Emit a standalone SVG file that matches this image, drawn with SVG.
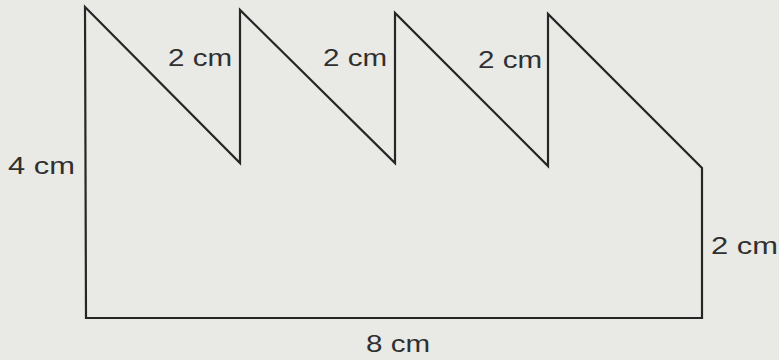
<svg xmlns="http://www.w3.org/2000/svg" width="779" height="360" viewBox="0 0 779 360">
<style>
.shape{fill:none;stroke:#262626;stroke-width:2.2;stroke-linejoin:miter}
.lbl{font-family:"Liberation Sans",Arial,sans-serif;font-size:23px;fill:#303030}
</style>
<rect width="779" height="360" fill="#e9e9e5"/>
<g id="shape">
<polygon class="shape" points="85,7 240,163 240,10 395,163 395,13 548,166 548,14 702,168 702,318 86,318"/>
</g>
<g id="labels">
<text class="lbl" x="168" y="66" textLength="64" lengthAdjust="spacingAndGlyphs">2 cm</text>
<text class="lbl" x="323" y="66" textLength="64" lengthAdjust="spacingAndGlyphs">2 cm</text>
<text class="lbl" x="478" y="68" textLength="64" lengthAdjust="spacingAndGlyphs">2 cm</text>
<text class="lbl" x="8" y="174" textLength="67" lengthAdjust="spacingAndGlyphs">4 cm</text>
<text class="lbl" x="711" y="254" textLength="67" lengthAdjust="spacingAndGlyphs">2 cm</text>
<text class="lbl" x="366" y="352" textLength="64" lengthAdjust="spacingAndGlyphs">8 cm</text>
</g>
</svg>
